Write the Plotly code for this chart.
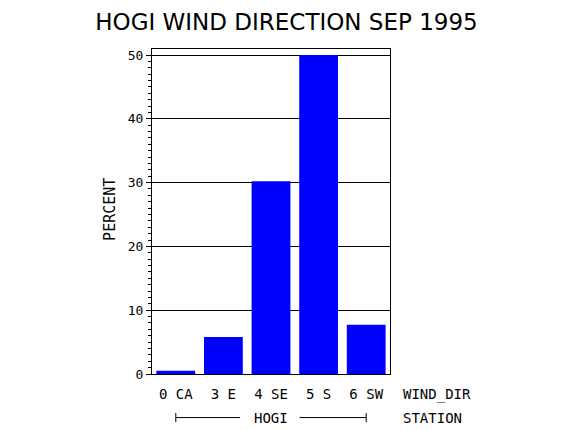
import plotly.graph_objects as go

# wind direction categories and percent of hours
wind_dir = ["0 CA", "3 E", "4 SE", "5 S", "6 SW"]
percent = [0.5, 5.8, 30.2, 50.0, 7.7]
station = "HOGI"
yticks = [0, 10, 20, 30, 40, 50]

mono = "DejaVu Sans Mono"

fig = go.Figure()
fig.add_trace(go.Bar(x=wind_dir, y=percent, marker=dict(color="#0000ff", line=dict(width=0)),
                     width=0.815))

# x range in category units, used to place the station bracket under the bars
xlo, xhi = -0.5, len(wind_dir) - 0.5
def xp(i):
    return (i - xlo) / (xhi - xlo)

x0 = xp(0)
x1 = xp(len(wind_dir) - 1)
xm = (x0 + x1) / 2
ybr = -0.134
lb = dict(color="black", width=1)

# page body adds 8px margin, so the figure is 8px smaller each way
fig.update_layout(
    width=562, height=422,
    margin=dict(l=144, r=180, t=41, b=56),
    paper_bgcolor="white", plot_bgcolor="white",
    showlegend=False,
    title=dict(text="HOGI WIND DIRECTION SEP 1995", x=278.5 / 562, xanchor="center", xref="container",
               y=1 - 14 / 422, yanchor="middle",
               font=dict(family="DejaVu Sans", size=23, color="black")),
    font=dict(family=mono, size=14, color="black"),
    xaxis=dict(range=[xlo, xhi], showline=True, linecolor="black", mirror=True,
               ticks="", showgrid=False, ticklabelstandoff=7,
               tickfont=dict(family=mono, size=14, color="black")),
    yaxis=dict(range=[0, 50.94], tickvals=yticks, showline=True, linecolor="black", mirror=True,
               ticks="outside", ticklen=5, tickcolor="black",
               showgrid=True, gridcolor="black", gridwidth=1, zeroline=False,
               minor=dict(dtick=1, ticks="outside", ticklen=3, tickcolor="black", showgrid=False),
               tickfont=dict(family=mono, size=13, color="black")),
    shapes=[
        dict(type="line", xref="paper", yref="paper", x0=x0, x1=xm - 0.13, y0=ybr, y1=ybr, line=lb),
        dict(type="line", xref="paper", yref="paper", x0=xm + 0.12, x1=x1, y0=ybr, y1=ybr, line=lb),
        dict(type="line", xref="paper", yref="paper", x0=x0, x1=x0, y0=ybr - 0.014, y1=ybr + 0.014, line=lb),
        dict(type="line", xref="paper", yref="paper", x0=x1, x1=x1, y0=ybr - 0.014, y1=ybr + 0.014, line=lb),
    ],
    annotations=[
        dict(text="PERCENT", xref="paper", yref="paper", x=(110 - 152) / 238, y=0.505,
             textangle=-90, showarrow=False, xanchor="center", yanchor="middle",
             font=dict(family=mono, size=15)),
        dict(text="WIND_DIR", xref="paper", yref="paper", x=(401 - 152) / 238, y=-20 / 325,
             showarrow=False, xanchor="left", yanchor="middle", font=dict(family=mono, size=14)),
        dict(text=station, xref="paper", yref="paper", x=xm, y=ybr,
             showarrow=False, xanchor="center", yanchor="middle", font=dict(family=mono, size=14)),
        dict(text="STATION", xref="paper", yref="paper", x=(401 - 152) / 238, y=ybr,
             showarrow=False, xanchor="left", yanchor="middle", font=dict(family=mono, size=14)),
    ],
)

fig.write_html("out.html")
